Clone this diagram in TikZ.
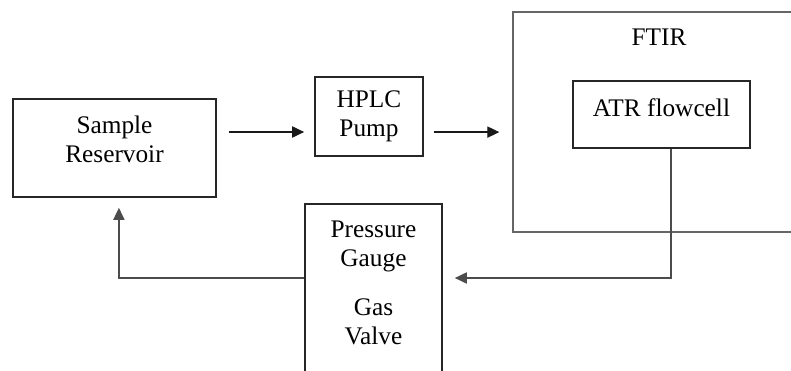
\documentclass[tikz,border=0pt]{standalone}
\usepackage{fontspec}
\setmainfont{Liberation Serif}
\usepackage{tikz}
\usetikzlibrary{arrows.meta, positioning, calc}

\begin{document}
\begin{tikzpicture}[
    x=0.025cm, y=-0.025cm,
    box/.style={rectangle, draw=black!85, line width=1.2pt, align=center, font=\fontsize{18}{20.8}\selectfont},
    framebox/.style={rectangle, draw=black!60, line width=0.9pt},
    arrow/.style={-{Triangle[length=3mm, width=2.8mm]}, line width=0.9pt, draw=black!90},
    darrow/.style={-{Triangle[length=3mm, width=2.8mm]}, line width=0.9pt, draw=black!70}
]
\useasboundingbox (0,0) rectangle (791,370);

% Instrument frame
\node[framebox, minimum width=7.925cm, minimum height=5.5cm] (ftir) at (671.5, 122) {};
\node[font=\fontsize{18}{20.8}\selectfont] (ftirlabel) at (659, 37) {FTIR};

% Boxes
\node[box, minimum width=5.075cm, minimum height=2.45cm, text depth=0.43cm] (res) at (114.5, 148) {Sample\\Reservoir};
\node[box, minimum width=2.7cm, minimum height=1.975cm] (hplc) at (369, 116.5) {HPLC\\Pump};
\node[box, minimum width=4.425cm, minimum height=1.675cm, text depth=0.33cm] (atr) at (661.5, 114.5) {ATR flowcell};
\node[box, minimum width=3.425cm, minimum height=4.9cm, text depth=0.95cm] (press) at (373.5, 302) {Pressure\\Gauge\\[0.49cm]Gas\\Valve};

% Connections
\draw[arrow] ([shift={(0.3cm,0.4cm)}]res.east) -- ([shift={(-0.25cm,0.4cm)}]res.east -| hplc.west);
\draw[arrow] ([shift={(0.25cm,-0.39cm)}]hplc.east) -- ([shift={(-0.325cm,-0.39cm)}]hplc.east -| ftir.west);

% Return loop
\draw[darrow] ([xshift=0.24cm]atr.south) |- ([shift={(0.3cm,0.6cm)}]press.east);
\draw[darrow] ([yshift=0.6cm]press.west) -| ([shift={(0.11cm,-0.25cm)}]res.south);

\end{tikzpicture}
\end{document}
